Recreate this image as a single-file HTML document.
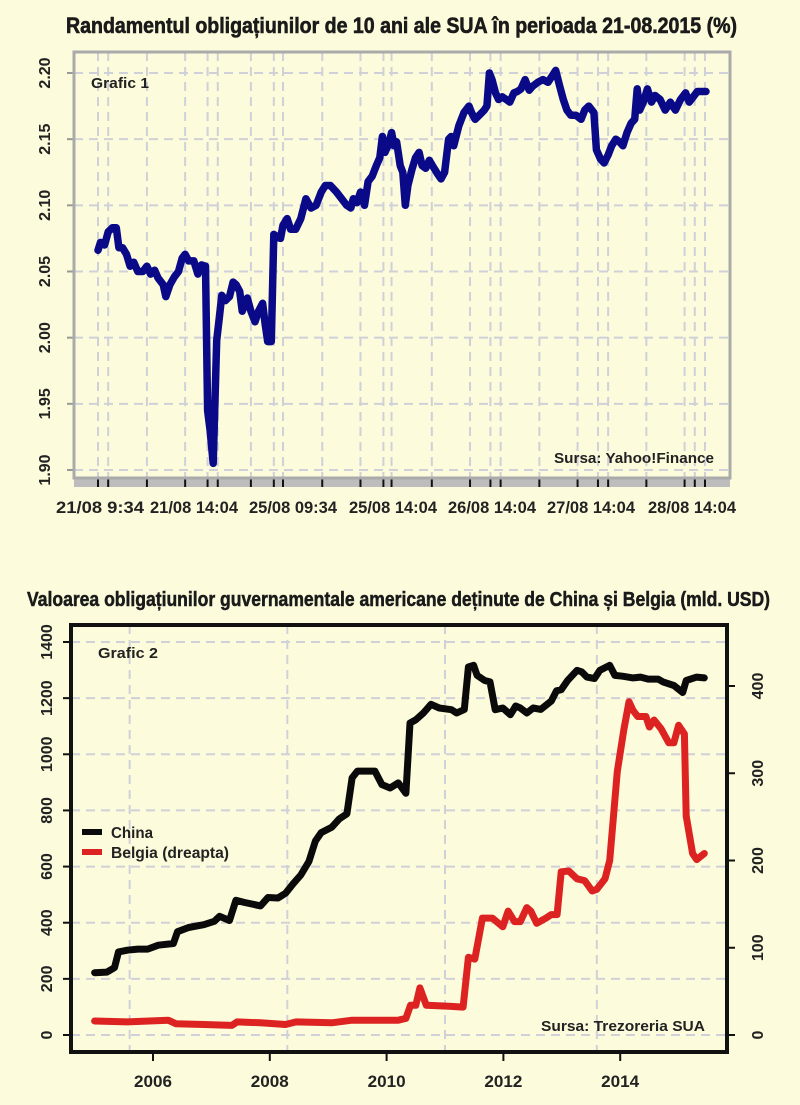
<!DOCTYPE html>
<html><head><meta charset="utf-8"><style>
html,body{margin:0;padding:0;background:#fcfcdc;}
svg{display:block;font-family:"Liberation Sans",sans-serif;}
</style></head><body>
<svg id="root" width="800" height="1105" viewBox="0 0 800 1105">
<rect width="800" height="1105" fill="#fcfcdc"/>
<g id="c1"></g>
<g id="c2"></g>
</svg>
<script>
// ---------- Chart 1 data ----------
const c1Times = [0,5,13,20,28,36,41,48,56,63,70,78,88,96,103,111,118,128,133,141,150,158,165,171,178,188,196,203,211,215,220,226,233,238,243,250,258,265,271,278,283,288,293,300,308,315,323,328,333,340,345,353,358,363,371,378,388,398,408,418,428,438,446,456,468,478,488,496,501,508,515,523,530,538,546,553,558,563,570,576,581,586,593,598,603,608,616,623,630,636,643,650,658,666,673,680,688,693,698,708,718,728,733,740,748,758,763,768,773,780,786,793,801,808,816,823,830,838,846,853,863,873,883,888,898,906,913,920,928,938,948,955,963,973,978,986,993,1001,1008,1016,1023,1030,1038,1046,1053,1058,1063,1070,1078,1086,1093,1103,1113,1123,1133,1143,1153,1160,1168,1176,1193];
const c1Values = [2.066,2.072,2.070,2.080,2.083,2.083,2.068,2.068,2.063,2.054,2.057,2.050,2.050,2.054,2.048,2.051,2.045,2.040,2.031,2.040,2.046,2.050,2.060,2.063,2.058,2.058,2.048,2.055,2.054,1.945,1.930,1.905,1.998,2.015,2.032,2.028,2.031,2.042,2.040,2.035,2.020,2.025,2.030,2.020,2.012,2.020,2.026,2.010,1.997,1.997,2.078,2.076,2.075,2.085,2.090,2.082,2.082,2.090,2.105,2.098,2.100,2.110,2.115,2.115,2.110,2.105,2.100,2.098,2.105,2.102,2.110,2.100,2.118,2.122,2.130,2.136,2.152,2.140,2.146,2.155,2.145,2.148,2.130,2.125,2.100,2.115,2.127,2.136,2.140,2.130,2.128,2.134,2.129,2.124,2.120,2.125,2.150,2.152,2.145,2.160,2.170,2.175,2.170,2.165,2.168,2.172,2.175,2.200,2.195,2.185,2.180,2.182,2.180,2.178,2.185,2.186,2.188,2.195,2.187,2.190,2.193,2.195,2.193,2.196,2.202,2.190,2.180,2.172,2.168,2.168,2.165,2.172,2.175,2.170,2.142,2.135,2.132,2.138,2.145,2.150,2.148,2.145,2.155,2.162,2.165,2.188,2.172,2.178,2.188,2.178,2.183,2.180,2.172,2.178,2.172,2.180,2.185,2.178,2.182,2.186,2.186];
const c1YTicks = [1.90,1.95,2.00,2.05,2.10,2.15,2.20];
const c1YTickLabels = ["1.90","1.95","2.00","2.05","2.10","2.15","2.20"];
const c1XTickTimes = [0,20,96,171,215,235,300,345,363,440,515,560,576,655,730,770,790,866,941,981,1001,1076,1151,1171,1191];
const c1XLabels = ["21/08 9:34","21/08 14:04","25/08 09:34","25/08 14:04","26/08 14:04","27/08 14:04","28/08 14:04"];
const c1XLabelCenters = [100,194,293,393,492,591,692];

// ---------- Chart 2 data ----------
const chinaYears = [2005.0,2005.21,2005.34,2005.41,2005.56,2005.74,2005.91,2006.09,2006.35,2006.42,2006.61,2006.87,2007.05,2007.14,2007.31,2007.42,2007.57,2007.84,2007.97,2008.14,2008.27,2008.40,2008.53,2008.67,2008.78,2008.88,2009.06,2009.19,2009.32,2009.41,2009.50,2009.80,2009.92,2010.06,2010.20,2010.33,2010.40,2010.50,2010.63,2010.76,2010.90,2011.11,2011.20,2011.33,2011.40,2011.49,2011.55,2011.68,2011.77,2011.86,2011.99,2012.12,2012.21,2012.29,2012.40,2012.51,2012.64,2012.82,2012.91,2012.99,2013.10,2013.26,2013.34,2013.43,2013.56,2013.65,2013.82,2013.91,2014.04,2014.22,2014.35,2014.48,2014.65,2014.74,2014.92,2015.07,2015.13,2015.31,2015.44];
const chinaValues = [222,224,240,296,302,306,306,320,326,368,383,393,405,423,408,480,472,460,490,488,505,539,570,618,691,721,740,770,788,916,940,940,892,880,898,861,1111,1123,1147,1178,1165,1159,1147,1160,1311,1317,1281,1263,1258,1159,1165,1141,1172,1165,1147,1165,1160,1190,1226,1230,1263,1299,1294,1275,1270,1299,1317,1281,1278,1272,1275,1268,1268,1257,1245,1220,1263,1275,1272];
const belgiaYears = [2005.0,2005.56,2006.26,2006.39,2006.87,2007.35,2007.44,2007.84,2008.27,2008.45,2009.06,2009.41,2010.20,2010.33,2010.41,2010.50,2010.57,2010.68,2011.07,2011.31,2011.40,2011.51,2011.64,2011.81,2011.99,2012.08,2012.19,2012.29,2012.40,2012.47,2012.57,2012.73,2012.82,2012.92,2012.99,2013.12,2013.26,2013.39,2013.52,2013.60,2013.74,2013.82,2013.95,2014.06,2014.15,2014.22,2014.30,2014.44,2014.50,2014.58,2014.70,2014.83,2014.92,2015.00,2015.10,2015.13,2015.24,2015.31,2015.44];
const belgiaValues = [16,15,17,13,12,11,15,14,12,15,14,17,17,19,34,34,54,34,33,32,89,87,134,134,124,142,130,130,146,142,128,134,138,138,187,188,179,177,165,167,179,200,302,349,382,372,365,365,353,361,351,335,335,355,345,251,208,201,208];
const c2LeftTicks = [0,200,400,600,800,1000,1200,1400];
const c2RightTicks = [0,100,200,300,400];
const c2YearTicks = [2006,2008,2010,2012,2014];
const c2VGrid = [2005.6,2008.3,2011.0,2013.6];

const NS="http://www.w3.org/2000/svg";
function mk(parent,tag,attrs,text){const e=document.createElementNS(NS,tag);for(const k in attrs)e.setAttribute(k,attrs[k]);if(text!==undefined)e.textContent=text;parent.appendChild(e);return e;}

// ---------- Chart 1 ----------
(function(){
  const g=document.getElementById('c1');
  const L=74,R=730,T=52,B=478;
  const xs=t=>98+t*(706-98)/1193;
  const ys=v=>73+(2.20-v)*(470-73)/0.30;
  const title=mk(g,'text',{x:66,y:33,textLength:671,lengthAdjust:'spacingAndGlyphs','font-size':22,'font-weight':'bold',fill:'#1a1a1a',stroke:'#1a1a1a','stroke-width':0.6},'Randamentul obligațiunilor de 10 ani ale SUA în perioada 21-08.2015 (%)');
  
  
  const strip=mk(g,'rect',{x:L,y:B,width:R-L,height:9,fill:'#bdbdbd'});
  
  
  c1YTicks.forEach((v,i)=>{
    const gl=mk(g,'line',{x1:L,x2:R,y1:ys(v),y2:ys(v),stroke:'#d0d0d8','stroke-width':2,'stroke-dasharray':'9,6'});
    
    
    const tk=mk(g,'line',{x1:L-7,x2:L,y1:ys(v),y2:ys(v),stroke:'#999','stroke-width':2});
    
    
    const y=ys(v);
    const lb=mk(g,'text',{x:0,y:0,transform:`translate(50,${y}) rotate(-90)`,'text-anchor':'middle','font-size':16,'font-weight':'bold',fill:'#222'},c1YTickLabels[i]);
    
    
  });
  c1XTickTimes.forEach(t=>{
    const gl=mk(g,'line',{x1:xs(t),x2:xs(t),y1:T,y2:B,stroke:'#d0d0d8','stroke-width':2,'stroke-dasharray':'9,6'});
    
    
    const tk=mk(g,'line',{x1:xs(t),x2:xs(t),y1:B+1,y2:B+9,stroke:'#111','stroke-width':2});
    
    
  });
  const box=mk(g,'rect',{x:L,y:T,width:R-L,height:B-T,fill:'none',stroke:'#aaaaaa','stroke-width':3});
  
  
  c1XLabels.forEach((s,i)=>{
    const lb=mk(g,'text',{x:c1XLabelCenters[i],y:513,'text-anchor':'middle','font-size':17,'font-weight':'bold',fill:'#222',textLength:88,lengthAdjust:'spacingAndGlyphs'},s);
    
    
  });
  const pts=c1Times.map((t,i)=>xs(t).toFixed(1)+','+ys(c1Values[i]).toFixed(1)).join(' ');
  const line=mk(g,'polyline',{points:pts,fill:'none',stroke:'#0a0a88','stroke-width':7.5,'stroke-linejoin':'round','stroke-linecap':'round'});
  
  
  const gt=mk(g,'text',{x:91,y:88,'font-size':15,'font-weight':'bold',fill:'#222',textLength:58,lengthAdjust:'spacingAndGlyphs'},'Grafic 1');
  
  
  const src=mk(g,'text',{x:714,y:463,'text-anchor':'end','font-size':15,'font-weight':'bold',fill:'#222',textLength:160,lengthAdjust:'spacingAndGlyphs'},'Sursa: Yahoo!Finance');
  
  
})();

// ---------- Chart 2 ----------
(function(){
  const g=document.getElementById('c2');
  const L=71,R=727,T=625,B=1052;
  const xs=yr=>153+(yr-2006)*58.4;
  const yl=v=>1035-v*(1035-642)/1400;
  const yr_=v=>1035-v*(1035-686)/400;
  const title=mk(g,'text',{x:27,y:606,textLength:743,lengthAdjust:'spacingAndGlyphs','font-size':20,'font-weight':'bold',fill:'#1a1a1a',stroke:'#1a1a1a','stroke-width':0.5},'Valoarea obligațiunilor guvernamentale americane deținute de China și Belgia (mld. USD)');
  
  
  c2LeftTicks.forEach(v=>{
    const gl=mk(g,'line',{x1:L,x2:R,y1:yl(v),y2:yl(v),stroke:'#d0d0d8','stroke-width':2,'stroke-dasharray':'9,6'});
    
    
    const tk=mk(g,'line',{x1:L-8,x2:L,y1:yl(v),y2:yl(v),stroke:'#111','stroke-width':2});
    
    
    const lb=mk(g,'text',{x:0,y:0,transform:`translate(52,${yl(v)}) rotate(-90)`,'text-anchor':'middle','font-size':16,'font-weight':'bold',fill:'#222'},String(v));
    
    
  });
  c2RightTicks.forEach(v=>{
    const tk=mk(g,'line',{x1:R,x2:R+8,y1:yr_(v),y2:yr_(v),stroke:'#111','stroke-width':2});
    
    
    const lb=mk(g,'text',{x:0,y:0,transform:`translate(763,${yr_(v)}) rotate(-90)`,'text-anchor':'middle','font-size':16,'font-weight':'bold',fill:'#222'},String(v));
    
    
  });
  c2VGrid.forEach(yr=>{
    const gl=mk(g,'line',{x1:xs(yr),x2:xs(yr),y1:T,y2:B,stroke:'#d0d0d8','stroke-width':2,'stroke-dasharray':'9,6'});
    
    
  });
  c2YearTicks.forEach(yr=>{
    const tk=mk(g,'line',{x1:xs(yr),x2:xs(yr),y1:B,y2:B+9,stroke:'#111','stroke-width':2});
    
    
    const lb=mk(g,'text',{x:xs(yr),y:1087,'text-anchor':'middle','font-size':17,'font-weight':'bold',fill:'#222',textLength:38,lengthAdjust:'spacingAndGlyphs'},String(yr));
    
    
  });
  const box=mk(g,'rect',{x:L,y:T,width:R-L,height:B-T,fill:'none',stroke:'#111','stroke-width':4});
  
  
  const bp=belgiaYears.map((y,i)=>xs(y).toFixed(1)+','+yr_(belgiaValues[i]).toFixed(1)).join(' ');
  const bl=mk(g,'polyline',{points:bp,fill:'none',stroke:'#dd2222','stroke-width':7,'stroke-linejoin':'round','stroke-linecap':'round'});
  
  
  const cp=chinaYears.map((y,i)=>xs(y).toFixed(1)+','+yl(chinaValues[i]).toFixed(1)).join(' ');
  const cl=mk(g,'polyline',{points:cp,fill:'none',stroke:'#0a0a0a','stroke-width':7,'stroke-linejoin':'round','stroke-linecap':'round'});
  
  
  const l1=mk(g,'line',{x1:82,x2:102,y1:832,y2:832,stroke:'#0a0a0a','stroke-width':6});
  
  
  const t1=mk(g,'text',{x:111,y:838,'font-size':16,'font-weight':'bold',fill:'#222',textLength:42,lengthAdjust:'spacingAndGlyphs'},'China');
  
  
  const l2=mk(g,'line',{x1:82,x2:102,y1:852,y2:852,stroke:'#dd2222','stroke-width':6});
  
  
  const t2=mk(g,'text',{x:111,y:858,'font-size':16,'font-weight':'bold',fill:'#222',textLength:118,lengthAdjust:'spacingAndGlyphs'},'Belgia (dreapta)');
  
  
  const gt=mk(g,'text',{x:98,y:658,'font-size':15,'font-weight':'bold',fill:'#222',textLength:60,lengthAdjust:'spacingAndGlyphs'},'Grafic 2');
  
  
  const src=mk(g,'text',{x:705,y:1031,'text-anchor':'end','font-size':15,'font-weight':'bold',fill:'#222',textLength:164,lengthAdjust:'spacingAndGlyphs'},'Sursa: Trezoreria SUA');
  
  
})();
</script>
</body></html>
